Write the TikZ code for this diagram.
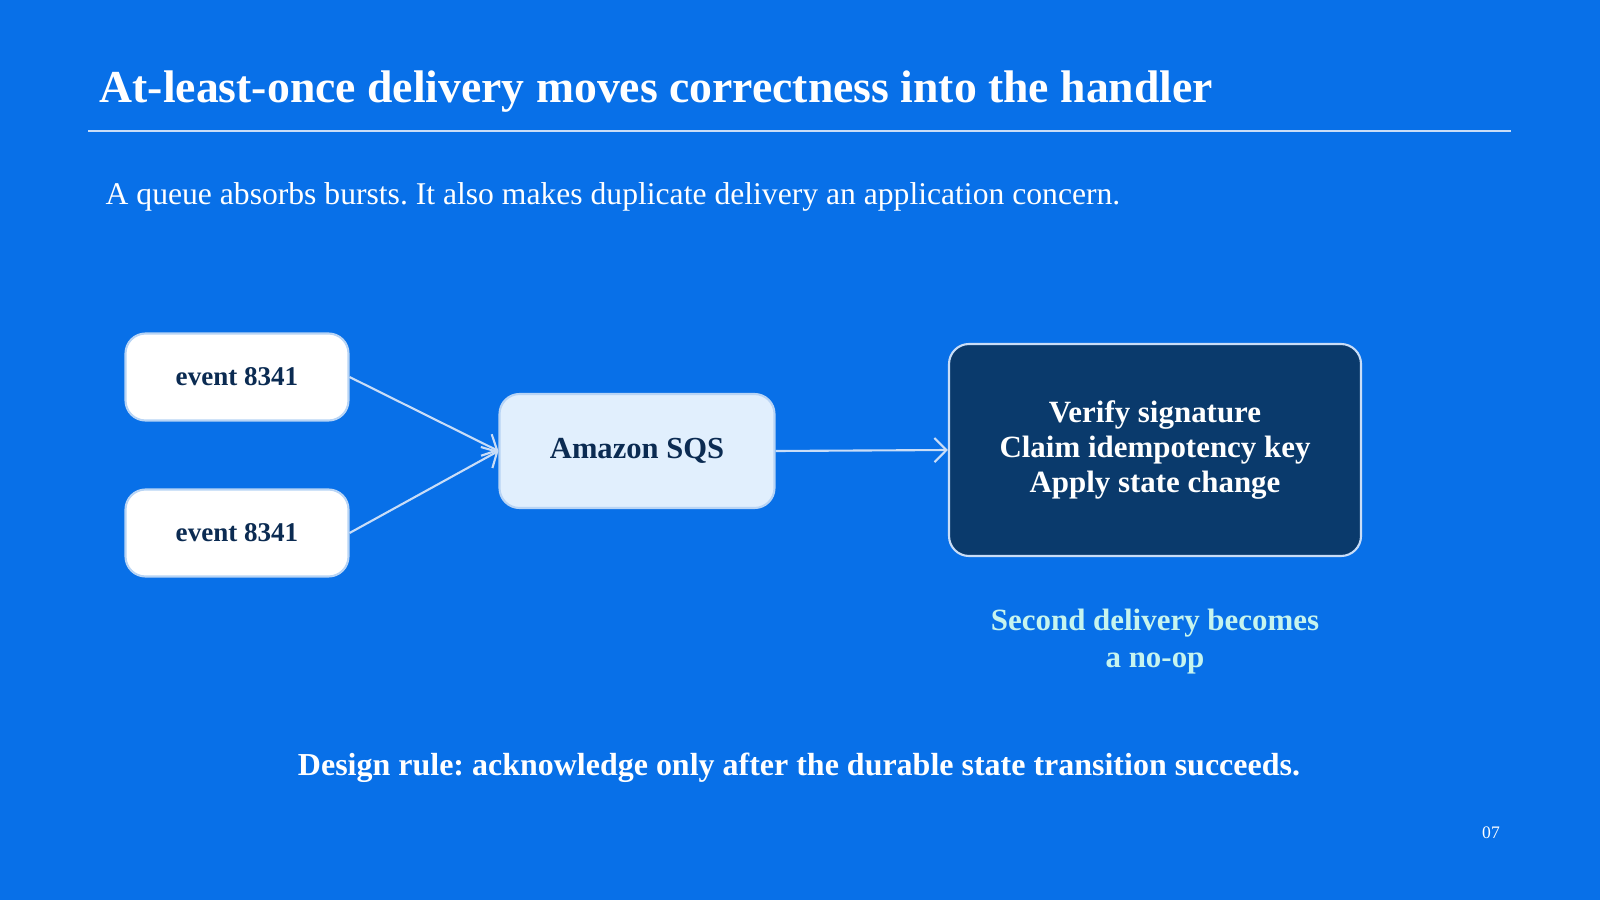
\documentclass[tikz,border=0pt]{standalone}
\usepackage{fontspec}
\setmainfont{Liberation Serif}
\usepackage{xcolor}
\definecolor{slideBg}{HTML}{0870E8}
\definecolor{slideRule}{HTML}{C9DDF7}
\definecolor{boxEdge}{HTML}{B8D4F5}
\definecolor{queueFill}{HTML}{E1EFFD}
\definecolor{handlerFill}{HTML}{0A3A6C}
\definecolor{inkDark}{HTML}{0B2B52}
\definecolor{noteTeal}{HTML}{C6F4EE}
\usetikzlibrary{arrows.meta,positioning,calc}
\frenchspacing
\tikzset{
    event/.style={
        draw=boxEdge,
        fill=white,
        rectangle,
        rounded corners=2mm,
        align=center,
        minimum height=0.87cm,
        minimum width=2.23cm,
        line width=0.6pt,
        font=\bfseries\fontsize{7.7}{9}\selectfont\color{inkDark}
    },
    queue/.style={
        draw=boxEdge,
        fill=queueFill,
        rectangle,
        rounded corners=2mm,
        align=center,
        minimum height=1.14cm,
        minimum width=2.75cm,
        line width=0.6pt,
        font=\bfseries\fontsize{8.7}{10}\selectfont\color{inkDark}
    },
    handler/.style={
        draw=slideRule,
        fill=handlerFill,
        rectangle,
        rounded corners=2mm,
        align=center,
        minimum height=2.12cm,
        minimum width=4.12cm,
        line width=0.6pt,
        font=\bfseries\fontsize{8.8}{10}\selectfont\color{white}
    },
    arrow/.style={
        ->,
        >={Straight Barb[length=1.2mm]},
        line width=0.6pt,
        color=slideRule
    }
}
\begin{document}
\begin{tikzpicture}
    \fill[slideBg] (0,0) rectangle (16,9);
    \useasboundingbox (0,0) rectangle (16,9);
    \node[anchor=west, font=\bfseries\fontsize{13}{16}\selectfont, text=white, inner sep=0] (title) at (0.99,8.08) {At-least-once delivery moves correctness into the handler};
    \draw[slideRule, line width=0.7pt] (0.88,7.69) -- (15.11,7.69);
    \node[anchor=west, font=\fontsize{9}{11}\selectfont, text=white, inner sep=0] (sub) at (1.05,7.03) {A queue absorbs bursts. It also makes duplicate delivery an application concern.};

    \node[event] (evA) at (2.37,5.23) {event 8341};
    \node[event] (evB) at (2.37,3.67) {event 8341};
    \node[queue] (sqs) at (6.37,4.49) {Amazon SQS};
    \node[handler] (work) at (11.55,4.5) {Verify signature\\Claim idempotency key\\Apply state change};
    \node[font=\bfseries\fontsize{8.8}{10.5}\selectfont, text=noteTeal, align=center, below=0.4cm of work] (note) {Second delivery becomes\\a no-op};

    \draw[arrow] (evA.east) -- (sqs.west);
    \draw[arrow] (evB.east) -- (sqs.west);
    \draw[arrow] (sqs.east) -- (work.west);

    \node[font=\bfseries\fontsize{9.1}{11}\selectfont, text=white] (rule) at (7.99,1.32) {Design rule: acknowledge only after the durable state transition succeeds.};
    \node[font=\fontsize{5}{6}\selectfont, text=white] (page) at (14.91,0.67) {07};
\end{tikzpicture}
\end{document}
